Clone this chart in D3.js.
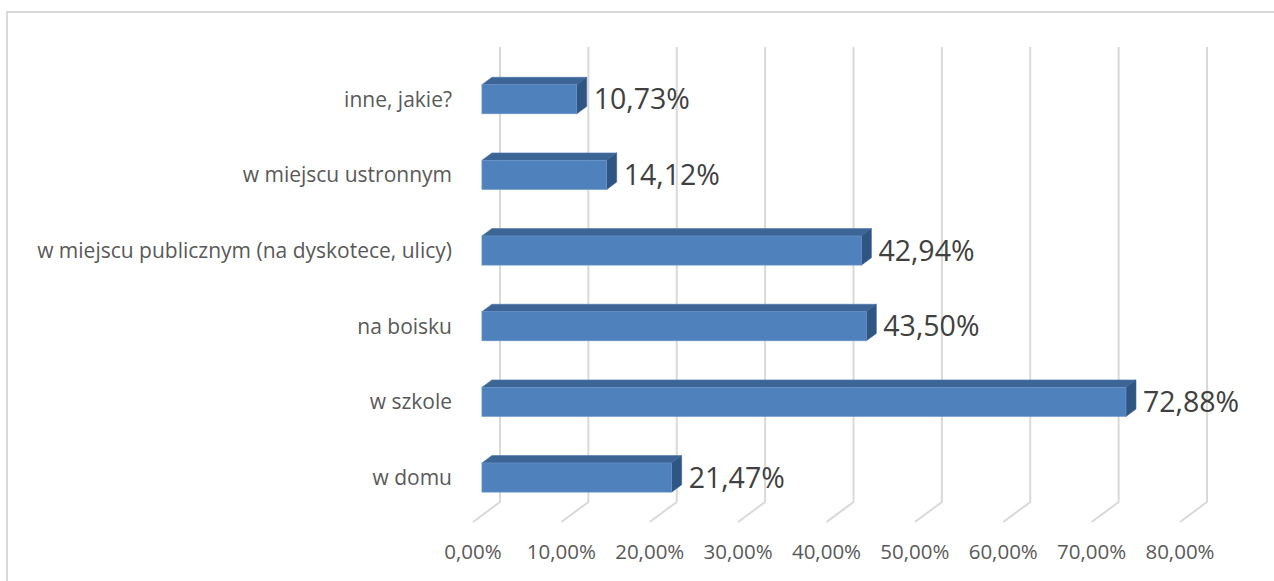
<!DOCTYPE html>
<html>
<head>
	<title>D3.js - Bar chart 3D</title>
	<meta charset="utf-8"/>
	<script src="https://d3js.org/d3.v7.min.js"></script>
	<style type="text/css">
		body { margin: 0; background: #fff; }
		svg text { font-family: "Open Sans", "DejaVu Sans", sans-serif; }
	</style>
</head>
<body>
	<svg id="chart" width="1274" height="581"></svg>
	<script type="text/javascript">

		var categories = ["w domu", "w szkole", "na boisku", "w miejscu publicznym (na dyskotece, ulicy)", "w miejscu ustronnym", "inne, jakie?"];
		var values = [21.47, 72.88, 43.50, 42.94, 14.12, 10.73];
		var tickValues = [0, 10, 20, 30, 40, 50, 60, 70, 80];

		var pl = d3.formatLocale({decimal: ",", thousands: " ", grouping: [3], currency: ["", " zł"]});
		var fmt = function(v) { return pl.format(".2f")(v) + "%"; };

		var svg = d3.select("#chart");

		// frame
		svg.append("rect")
			.attr("x", 7).attr("y", 12)
			.attr("width", 1300).attr("height", 600)
			.style("fill", "#fff")
			.style("stroke", "#d9d9d9")
			.style("stroke-width", "2px");

		// back wall scales + depth vector of the floor
		var x = d3.scaleLinear().domain([0, 80]).range([500, 1207]);
		var y = d3.scaleBand().domain(categories.slice().reverse()).range([48, 502]);
		var depth = [-27, 20];
		var d1 = 0.3, d2 = 0.67;
		var barH = y.bandwidth() * 0.385;

		// gridlines (wall + floor)
		svg.append("g").selectAll("path")
			.data(tickValues).enter()
			.append("path")
			.attr("d", function(t) {
				return "M" + x(t) + ",47V502l" + depth[0] + "," + depth[1];
			})
			.style("fill", "none")
			.style("stroke", "#d9d9d9")
			.style("stroke-width", "2px");

		// tick labels
		svg.append("g").selectAll("text")
			.data(tickValues).enter()
			.append("text")
			.attr("x", function(t) { return x(t) + depth[0]; })
			.attr("y", 559)
			.attr("text-anchor", "middle")
			.style("font-size", "20.5px")
			.style("fill", "#595959")
			.text(function(t) { return fmt(t); });

		var data = categories.map(function(c, i) { return {cat: c, val: values[i]}; });

		function frontY(d) { return y(d.cat) + y.bandwidth() / 2 + depth[1] * d2; }

		var bars = svg.append("g").selectAll("g")
			.data(data).enter()
			.append("g");

		// top face
		bars.append("path")
			.attr("d", function(d) {
				var fx0 = x(0) + depth[0] * d2, fx1 = x(d.val) + depth[0] * d2;
				var bx0 = x(0) + depth[0] * d1, bx1 = x(d.val) + depth[0] * d1;
				var fy = frontY(d) - barH / 2, by = fy - depth[1] * (d2 - d1);
				return "M" + fx0 + "," + fy + "L" + bx0 + "," + by + "L" + bx1 + "," + by + "L" + fx1 + "," + fy + "Z";
			})
			.style("fill", "#3c6596")
			.style("stroke", "#4a76ab")
			.style("stroke-width", "0.6px");

		// right face
		bars.append("path")
			.attr("d", function(d) {
				var fx1 = x(d.val) + depth[0] * d2, bx1 = x(d.val) + depth[0] * d1;
				var fy = frontY(d) - barH / 2, dy = depth[1] * (d2 - d1);
				return "M" + fx1 + "," + fy + "L" + bx1 + "," + (fy - dy) + "L" + bx1 + "," + (fy - dy + barH) + "L" + fx1 + "," + (fy + barH) + "Z";
			})
			.style("fill", "#2f5583")
			.style("stroke", "#3a6294")
			.style("stroke-width", "0.6px");

		// front face
		bars.append("rect")
			.attr("x", x(0) + depth[0] * d2)
			.attr("y", function(d) { return frontY(d) - barH / 2; })
			.attr("width", function(d) { return x(d.val) - x(0); })
			.attr("height", barH)
			.style("fill", "#4f81bd")
			.style("stroke", "#6b96cc")
			.style("stroke-width", "0.6px");

		// value labels
		bars.append("text")
			.attr("x", function(d) { return x(d.val) + depth[0] * d1 + 7; })
			.attr("y", function(d) { return frontY(d); })
			.attr("dy", "0.36em")
			.style("font-size", "28.5px")
			.style("fill", "#404040")
			.text(function(d) { return fmt(d.val); });

		// category labels
		svg.append("g").selectAll("text")
			.data(data).enter()
			.append("text")
			.attr("x", 452)
			.attr("y", function(d) { return frontY(d); })
			.attr("dy", "0.36em")
			.attr("text-anchor", "end")
			.style("font-size", "21px")
			.style("fill", "#595959")
			.text(function(d) { return d.cat; });

	</script>
</body>
</html>
